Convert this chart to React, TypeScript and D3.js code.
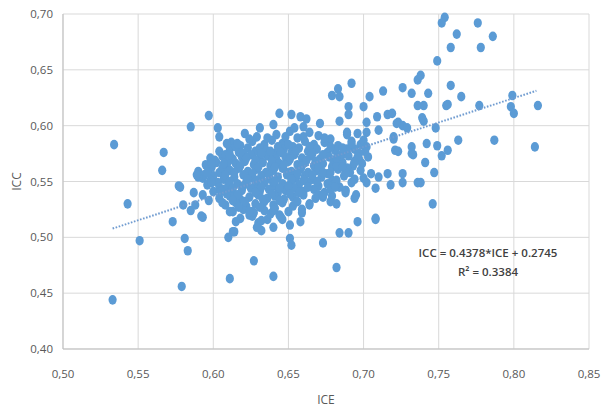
import React from 'react';
import * as d3 from 'd3';

// ==== data (ICE, ICC)

const xTicks = [0.5, 0.55, 0.6, 0.65, 0.7, 0.75, 0.8, 0.85];
const yTicks = [0.4, 0.45, 0.5, 0.55, 0.6, 0.65, 0.7];

const trendSlope = 0.4378;
const trendIntercept = 0.2745;
const trendRange = [0.533, 0.815];
const equationLines = ['ICC = 0.4378*ICE + 0.2745', 'R² = 0.3384'];

// dense middle of the cloud
const corePoints = [
  [0.621, 0.593], [0.629, 0.590], [0.642, 0.592], [0.651, 0.595], [0.656, 0.589], [0.664, 0.594], [0.670, 0.591], [0.678, 0.588], [0.689, 0.592],
  [0.612, 0.585], [0.618, 0.582], [0.626, 0.586], [0.634, 0.583], [0.639, 0.587], [0.646, 0.584], [0.653, 0.581], [0.661, 0.586], [0.667, 0.583], [0.674, 0.585], [0.683, 0.582], [0.692, 0.586], [0.698, 0.583],
  [0.604, 0.577], [0.611, 0.579], [0.617, 0.576], [0.623, 0.580], [0.628, 0.577], [0.635, 0.578], [0.641, 0.575], [0.647, 0.579], [0.652, 0.576], [0.657, 0.580], [0.663, 0.577], [0.669, 0.579], [0.676, 0.576], [0.681, 0.578], [0.687, 0.575], [0.694, 0.579], [0.701, 0.577],
  [0.598, 0.571], [0.606, 0.573], [0.613, 0.570], [0.619, 0.572], [0.625, 0.574], [0.631, 0.571], [0.636, 0.573], [0.642, 0.570], [0.648, 0.572], [0.654, 0.574], [0.659, 0.571], [0.665, 0.573], [0.671, 0.570], [0.677, 0.572], [0.684, 0.569], [0.690, 0.573], [0.697, 0.570], [0.703, 0.572],
  [0.595, 0.565], [0.602, 0.567], [0.609, 0.564], [0.615, 0.566], [0.621, 0.568], [0.627, 0.565], [0.633, 0.567], [0.638, 0.564], [0.644, 0.566], [0.650, 0.568], [0.656, 0.565], [0.661, 0.567], [0.667, 0.564], [0.673, 0.566], [0.679, 0.563], [0.686, 0.567], [0.693, 0.564], [0.699, 0.566],
  [0.590, 0.559], [0.597, 0.561], [0.604, 0.558], [0.611, 0.560], [0.617, 0.562], [0.623, 0.559], [0.629, 0.561], [0.635, 0.558], [0.640, 0.560], [0.646, 0.562], [0.652, 0.559], [0.658, 0.561], [0.663, 0.558], [0.669, 0.560], [0.676, 0.557], [0.683, 0.561], [0.691, 0.558], [0.698, 0.560], [0.705, 0.557],
  [0.593, 0.553], [0.600, 0.555], [0.607, 0.552], [0.614, 0.554], [0.620, 0.556], [0.626, 0.553], [0.632, 0.555], [0.638, 0.552], [0.643, 0.554], [0.649, 0.556], [0.655, 0.553], [0.661, 0.555], [0.666, 0.552], [0.672, 0.554], [0.679, 0.551], [0.687, 0.555], [0.694, 0.552],
  [0.596, 0.547], [0.603, 0.549], [0.610, 0.546], [0.616, 0.548], [0.622, 0.550], [0.628, 0.547], [0.634, 0.549], [0.640, 0.546], [0.646, 0.548], [0.652, 0.550], [0.657, 0.547], [0.663, 0.549], [0.670, 0.546], [0.676, 0.548], [0.684, 0.545], [0.692, 0.549],
  [0.600, 0.541], [0.607, 0.543], [0.613, 0.540], [0.619, 0.542], [0.625, 0.544], [0.631, 0.541], [0.637, 0.543], [0.643, 0.540], [0.648, 0.542], [0.654, 0.544], [0.660, 0.541], [0.667, 0.543], [0.674, 0.540], [0.688, 0.542],
  [0.604, 0.535], [0.611, 0.537], [0.618, 0.534], [0.624, 0.536], [0.630, 0.538], [0.636, 0.535], [0.641, 0.537], [0.647, 0.534], [0.653, 0.536], [0.660, 0.538], [0.668, 0.535], [0.679, 0.537],
  [0.608, 0.529], [0.615, 0.531], [0.622, 0.528], [0.628, 0.530], [0.634, 0.532], [0.640, 0.529], [0.646, 0.531], [0.653, 0.528], [0.664, 0.530],
  [0.613, 0.523], [0.620, 0.525], [0.627, 0.522], [0.634, 0.524], [0.641, 0.526], [0.650, 0.523], [0.659, 0.525],
  [0.618, 0.517], [0.626, 0.519], [0.636, 0.516], [0.645, 0.518],
];

// second layer filling the gaps of the middle
const coreFill = [
  [0.624, 0.588], [0.636, 0.589], [0.648, 0.590], [0.660, 0.590], [0.674, 0.589],
  [0.615, 0.581], [0.631, 0.580], [0.643, 0.581], [0.650, 0.583], [0.664, 0.581], [0.678, 0.581], [0.689, 0.579],
  [0.608, 0.574], [0.620, 0.575], [0.632, 0.575], [0.638, 0.577], [0.645, 0.576], [0.655, 0.577], [0.666, 0.575], [0.673, 0.574], [0.684, 0.573], [0.697, 0.575],
  [0.601, 0.569], [0.610, 0.568], [0.622, 0.571], [0.628, 0.569], [0.639, 0.569], [0.651, 0.570], [0.662, 0.569], [0.668, 0.568], [0.680, 0.567], [0.694, 0.568],
  [0.599, 0.563], [0.606, 0.562], [0.618, 0.564], [0.630, 0.563], [0.641, 0.563], [0.647, 0.565], [0.659, 0.564], [0.670, 0.562], [0.682, 0.564], [0.689, 0.562],
  [0.594, 0.556], [0.608, 0.556], [0.614, 0.558], [0.626, 0.557], [0.637, 0.556], [0.649, 0.558], [0.656, 0.557], [0.666, 0.556], [0.673, 0.558], [0.688, 0.558],
  [0.598, 0.551], [0.611, 0.550], [0.623, 0.552], [0.629, 0.551], [0.641, 0.550], [0.652, 0.552], [0.660, 0.551], [0.669, 0.550], [0.681, 0.548],
  [0.604, 0.545], [0.613, 0.544], [0.620, 0.546], [0.632, 0.545], [0.644, 0.544], [0.650, 0.546], [0.663, 0.545], [0.678, 0.543],
  [0.609, 0.539], [0.616, 0.538], [0.628, 0.540], [0.639, 0.539], [0.651, 0.539], [0.657, 0.540], [0.670, 0.538],
  [0.613, 0.533], [0.621, 0.532], [0.633, 0.534], [0.644, 0.533], [0.656, 0.532],
  [0.617, 0.527], [0.631, 0.527], [0.638, 0.521], [0.624, 0.520],
];

// upper and right part of the cloud
const upperPoints = [
  [0.597, 0.609], [0.585, 0.599], [0.603, 0.598], [0.604, 0.590], [0.609, 0.584], [0.567, 0.576], [0.599, 0.566], [0.607, 0.566], [0.611, 0.574], [0.616, 0.584],
  [0.631, 0.598], [0.640, 0.601], [0.644, 0.611], [0.652, 0.610], [0.658, 0.608], [0.662, 0.606], [0.671, 0.602], [0.660, 0.599], [0.654, 0.598],
  [0.679, 0.627], [0.683, 0.633], [0.684, 0.626], [0.692, 0.638], [0.690, 0.617], [0.690, 0.610], [0.700, 0.617], [0.704, 0.626], [0.713, 0.631], [0.726, 0.634], [0.732, 0.629],
  [0.736, 0.641], [0.738, 0.645], [0.743, 0.629], [0.736, 0.618], [0.740, 0.618], [0.739, 0.607], [0.740, 0.604], [0.755, 0.618], [0.748, 0.598],
  [0.754, 0.697], [0.752, 0.692], [0.776, 0.692], [0.762, 0.682], [0.786, 0.680], [0.758, 0.670], [0.778, 0.670], [0.749, 0.658],
  [0.758, 0.636], [0.765, 0.626], [0.756, 0.619], [0.777, 0.618], [0.799, 0.627], [0.798, 0.617], [0.800, 0.611], [0.816, 0.618],
  [0.763, 0.587], [0.787, 0.587], [0.814, 0.581], [0.742, 0.584], [0.749, 0.582], [0.756, 0.578], [0.752, 0.573], [0.741, 0.567], [0.747, 0.558], [0.746, 0.530], [0.738, 0.549],
  [0.709, 0.608], [0.716, 0.610], [0.719, 0.611], [0.723, 0.603], [0.726, 0.600], [0.729, 0.598], [0.710, 0.596], [0.702, 0.603], [0.702, 0.594], [0.700, 0.587], [0.702, 0.581],
  [0.720, 0.588], [0.721, 0.578], [0.723, 0.577], [0.732, 0.581], [0.732, 0.575], [0.733, 0.574], [0.720, 0.590], [0.722, 0.602], [0.689, 0.594], [0.696, 0.593], [0.684, 0.604],
  [0.700, 0.553], [0.702, 0.549], [0.708, 0.544], [0.710, 0.554], [0.716, 0.557], [0.718, 0.547], [0.726, 0.549], [0.726, 0.557], [0.736, 0.549], [0.708, 0.516],
  [0.686, 0.580], [0.692, 0.584], [0.682, 0.571], [0.686, 0.563], [0.696, 0.572], [0.694, 0.567],
];

// lower and left part of the cloud
const lowerPoints = [
  [0.678, 0.558], [0.682, 0.551], [0.681, 0.545], [0.688, 0.542], [0.694, 0.535], [0.673, 0.536], [0.678, 0.532], [0.682, 0.530], [0.664, 0.529], [0.659, 0.522],
  [0.658, 0.514], [0.651, 0.511], [0.644, 0.520], [0.646, 0.516], [0.640, 0.509], [0.673, 0.538], [0.688, 0.540], [0.695, 0.538],
  [0.651, 0.499], [0.652, 0.493], [0.673, 0.495], [0.682, 0.473], [0.684, 0.504], [0.690, 0.504], [0.696, 0.514], [0.708, 0.517],
  [0.611, 0.463], [0.627, 0.479], [0.640, 0.465],
  [0.533, 0.444], [0.534, 0.583], [0.551, 0.497], [0.543, 0.530], [0.579, 0.456], [0.583, 0.488], [0.581, 0.499], [0.573, 0.514],
  [0.566, 0.560], [0.577, 0.546], [0.593, 0.518], [0.587, 0.540], [0.590, 0.554], [0.596, 0.558], [0.599, 0.549], [0.611, 0.523], [0.615, 0.514],
  [0.610, 0.500], [0.613, 0.505], [0.606, 0.531], [0.578, 0.545], [0.589, 0.556], [0.580, 0.529], [0.585, 0.524], [0.588, 0.529], [0.592, 0.519],
  [0.593, 0.538], [0.597, 0.533], [0.605, 0.541], [0.614, 0.505], [0.626, 0.523], [0.630, 0.513], [0.632, 0.506], [0.632, 0.515], [0.624, 0.523], [0.629, 0.509], [0.640, 0.524],
];

// ====

const W = 602;
const H = 407;
const margin = { left: 63, right: 13, top: 14, bottom: 58 };

const fmt = (v: number) => d3.format('.2f')(v).replace('.', ',');

export default function App() {
  const x = d3.scaleLinear().domain([0.5, 0.85]).range([margin.left, W - margin.right]);
  const y = d3.scaleLinear().domain([0.4, 0.7]).range([H - margin.bottom, margin.top]);

  const points = [...corePoints, ...coreFill, ...upperPoints, ...lowerPoints];
  const trendLine = d3.line<number>()
    .x((d) => x(d))
    .y((d) => y(trendSlope * d + trendIntercept));

  const textFont = '"Open Sans", "Liberation Sans", sans-serif';

  return (
    <svg width={W} height={H} style={{ position: 'absolute', left: 0, top: 0, background: '#fff' }}>
      {yTicks.map((t) => (
        <line key={'gy' + t} x1={x(0.5)} x2={x(0.85)} y1={y(t)} y2={y(t)} stroke="#d9d9d9" strokeWidth={1} />
      ))}
      {xTicks.map((t) => (
        <line key={'gx' + t} x1={x(t)} x2={x(t)} y1={y(0.4)} y2={y(0.7)} stroke="#d9d9d9" strokeWidth={1} />
      ))}
      <line x1={x(0.5)} x2={x(0.5)} y1={y(0.4)} y2={y(0.7)} stroke="#bfbfbf" />
      <line x1={x(0.5)} x2={x(0.85)} y1={y(0.4)} y2={y(0.4)} stroke="#bfbfbf" />

      {yTicks.map((t) => (
        <text key={'ly' + t} x={x(0.5) - 10} y={y(t) + 4} textAnchor="end" fontSize={11.5} fill="#595959" fontFamily={textFont}>
          {fmt(t)}
        </text>
      ))}
      {xTicks.map((t) => (
        <text key={'lx' + t} x={x(t)} y={y(0.4) + 29} textAnchor="middle" fontSize={11.5} fill="#595959" fontFamily={textFont}>
          {fmt(t)}
        </text>
      ))}

      <text x={(x(0.5) + x(0.85)) / 2} y={404} textAnchor="middle" fontSize={12} fill="#595959" fontFamily={textFont}>ICE</text>
      <text transform={`translate(21, ${(y(0.4) + y(0.7)) / 2}) rotate(-90)`} textAnchor="middle" fontSize={12} fill="#595959" fontFamily={textFont}>ICC</text>

      {points.map((p, i) => (
        <ellipse key={i} cx={x(p[0])} cy={y(p[1])} rx={4.1} ry={4.8} fill="#5b9bd5" />
      ))}

      <path d={trendLine(trendRange) || ''} fill="none" stroke="#6f9bd0" strokeWidth={2} strokeDasharray="1.6 1.6" />

      {equationLines.map((s, i) => (
        <text key={s} x={488} y={257 + i * 19} textAnchor="middle" fontSize={11.5} fontWeight={600} fill="#404040" fontFamily={textFont}>
          {s}
        </text>
      ))}
    </svg>
  );
}
